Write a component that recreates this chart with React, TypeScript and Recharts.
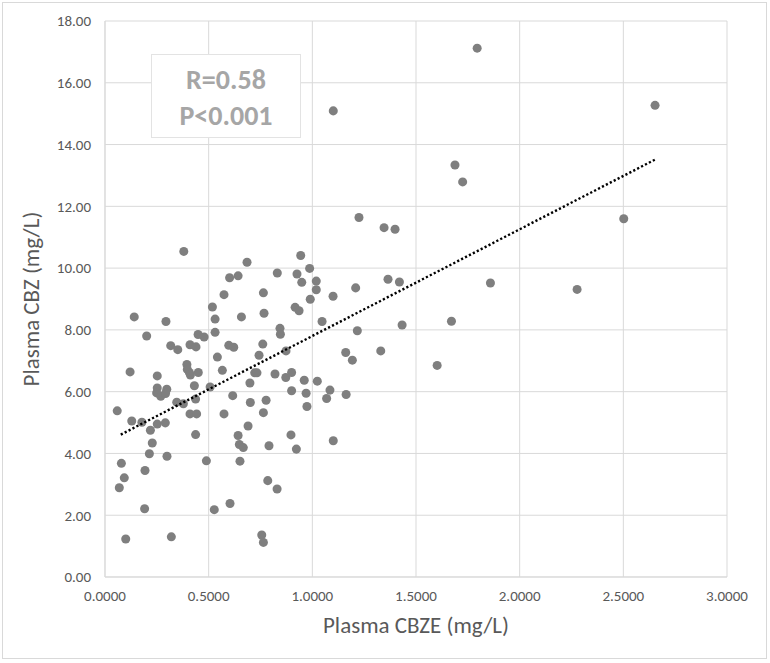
import React from "react";
import {
  ScatterChart,
  Scatter,
  XAxis,
  YAxis,
  CartesianGrid,
  Label,
} from "recharts";

// Plasma CBZE (mg/L)
const cbzeValues = [
  0.059, 0.079, 0.069, 0.093, 0.1, 0.121, 0.129, 0.141, 0.178, 0.191,
  0.193, 0.201, 0.214, 0.219, 0.228, 0.252, 0.252, 0.249, 0.269, 0.298,
  0.292, 0.252, 0.291, 0.294, 0.299, 0.317, 0.32, 0.351, 0.346, 0.378,
  0.38, 0.395, 0.397, 0.407, 0.412, 0.45, 0.431, 0.437, 0.41, 0.439,
  0.449, 0.478, 0.41, 0.442, 0.437, 0.489, 0.518, 0.531, 0.531, 0.542,
  0.507, 0.527, 0.566, 0.574, 0.574, 0.601, 0.603, 0.642, 0.597, 0.621,
  0.616, 0.642, 0.648, 0.651, 0.667, 0.658, 0.685, 0.69, 0.699, 0.701,
  0.722, 0.733, 0.743, 0.756, 0.764, 0.761, 0.764, 0.767, 0.777, 0.764,
  0.785, 0.791, 0.82, 0.83, 0.831, 0.844, 0.846, 0.873, 0.872, 0.897,
  0.9, 0.9, 0.917, 0.923, 0.926, 0.936, 0.944, 0.949, 0.961, 0.97,
  0.974, 0.987, 0.99, 1.019, 1.019, 1.024, 1.047, 1.069, 1.085, 1.1,
  1.101, 1.101, 1.161, 1.163, 1.193, 1.209, 1.217, 1.225, 1.33, 1.346,
  1.365, 1.399, 1.42, 1.433, 1.602, 1.671, 1.688, 1.725, 1.795, 1.859,
  2.277, 2.502, 2.653,
];

// Plasma CBZ (mg/L), same order
const cbzValues = [
  5.38, 3.68, 2.89, 3.21, 1.23, 6.64, 5.05, 8.42, 5.01, 2.21,
  3.45, 7.8, 3.99, 4.75, 4.34, 6.51, 6.12, 5.96, 5.85, 6.08,
  5.94, 4.95, 4.99, 8.27, 3.91, 7.49, 1.3, 7.36, 5.66, 5.61,
  10.54, 6.88, 6.72, 6.62, 6.54, 6.62, 6.19, 5.76, 7.52, 7.45,
  7.85, 7.77, 5.28, 5.28, 4.61, 3.76, 8.74, 8.35, 7.92, 7.12,
  6.15, 2.18, 6.69, 9.14, 5.28, 9.69, 2.38, 9.75, 7.5, 7.44,
  5.87, 4.58, 4.29, 3.75, 4.19, 8.42, 10.19, 4.89, 6.28, 5.65,
  6.61, 6.61, 7.18, 1.36, 1.12, 7.54, 9.2, 8.54, 5.72, 5.32,
  3.12, 4.25, 6.57, 2.85, 9.84, 8.05, 7.86, 7.32, 6.46, 4.6,
  6.62, 6.03, 8.73, 4.14, 9.81, 8.62, 10.41, 9.54, 6.37, 5.95,
  5.52, 9.99, 8.99, 9.58, 9.3, 6.34, 8.27, 5.78, 6.05, 9.09,
  15.09, 4.41, 7.27, 5.91, 7.02, 9.36, 7.97, 11.64, 7.32, 11.31,
  9.64, 11.26, 9.55, 8.16, 6.85, 8.28, 13.34, 12.79, 17.12, 9.52,
  9.31, 11.6, 15.27,
];

// linear trendline end points (Excel dotted trendline)
const trendX = [0.076, 2.658];
const trendY = [4.61, 13.53];

const xTicks = [0, 0.5, 1, 1.5, 2, 2.5, 3];
const yTicks = [0, 2, 4, 6, 8, 10, 12, 14, 16, 18];

const points = cbzeValues.map((x, i) => ({ x, y: cbzValues[i] }));
const trend = trendX.map((x, i) => ({ x, y: trendY[i] }));

const FONT = 'Calibri, Carlito, "Open Sans", sans-serif';
const GRID = "#d9d9d9";
const TEXT = "#595959";

const YTitle = (props: any) => {
  const vb = props.viewBox || { x: 0, y: 21, width: 105, height: 556 };
  const cx = vb.x + 39;
  const cy = vb.y + vb.height / 2;
  return (
    <text
      x={cx}
      y={cy}
      transform={`rotate(-90 ${cx} ${cy})`}
      textAnchor="middle"
      fill={TEXT}
      fontSize={23}
      fontFamily={FONT}
    >
      Plasma CBZ (mg/L)
    </text>
  );
};

const XTitle = (props: any) => {
  const vb = props.viewBox || { x: 105, y: 577, width: 622, height: 60 };
  return (
    <text
      x={vb.x + vb.width / 2}
      y={vb.y + 56}
      textAnchor="middle"
      fill={TEXT}
      fontSize={23}
      fontFamily={FONT}
    >
      Plasma CBZE (mg/L)
    </text>
  );
};

export default function App() {
  return (
    <div
      style={{
        position: "absolute",
        left: 0,
        top: 0,
        width: 770,
        height: 663,
        background: "#fff",
        fontFamily: FONT,
      }}
    >
      {/* chart frame */}
      <div
        style={{
          position: "absolute",
          left: 2,
          top: 2,
          width: 763,
          height: 655,
          border: `1px solid ${GRID}`,
        }}
      />
      <ScatterChart
        width={770}
        height={663}
        margin={{ top: 21, right: 43, left: 0, bottom: 26 }}
        style={{ position: "absolute", left: 0, top: 0 }}
      >
        <CartesianGrid stroke={GRID} strokeWidth={1} />
        <XAxis
          type="number"
          dataKey="x"
          domain={[0, 3]}
          ticks={xTicks}
          tickFormatter={(v: number) => v.toFixed(4)}
          axisLine={{ stroke: GRID }}
          tickLine={false}
          tickMargin={7}
          height={60}
          tick={{ fill: TEXT, fontSize: 15, fontFamily: FONT }}
        >
          <Label content={XTitle} />
        </XAxis>
        <YAxis
          type="number"
          dataKey="y"
          domain={[0, 18]}
          ticks={yTicks}
          tickFormatter={(v: number) => v.toFixed(2)}
          axisLine={{ stroke: GRID }}
          tickLine={false}
          tickMargin={8}
          width={105}
          tick={{ fill: TEXT, fontSize: 15, fontFamily: FONT }}
        >
          <Label content={YTitle} />
        </YAxis>
        <Scatter
          data={points}
          fill="#7f7f7f"
          isAnimationActive={false}
        />
        <Scatter
          data={trend}
          line={{ stroke: "#000", strokeWidth: 2.4, strokeDasharray: "2.2 2.2" }}
          shape={() => <g />}
          isAnimationActive={false}
        />
      </ScatterChart>
      {/* statistics text box */}
      <div
        style={{
          position: "absolute",
          left: 151,
          top: 54,
          width: 150,
          height: 84,
          border: `1px solid #e3e3e3`,
          background: "#fff",
          color: "#a6a6a6",
          fontWeight: 700,
          fontSize: 28,
          lineHeight: "36px",
          textAlign: "center",
          paddingTop: 7,
          boxSizing: "border-box",
        }}
      >
        <div>R=0.58</div>
        <div>P&lt;0.001</div>
      </div>
    </div>
  );
}
